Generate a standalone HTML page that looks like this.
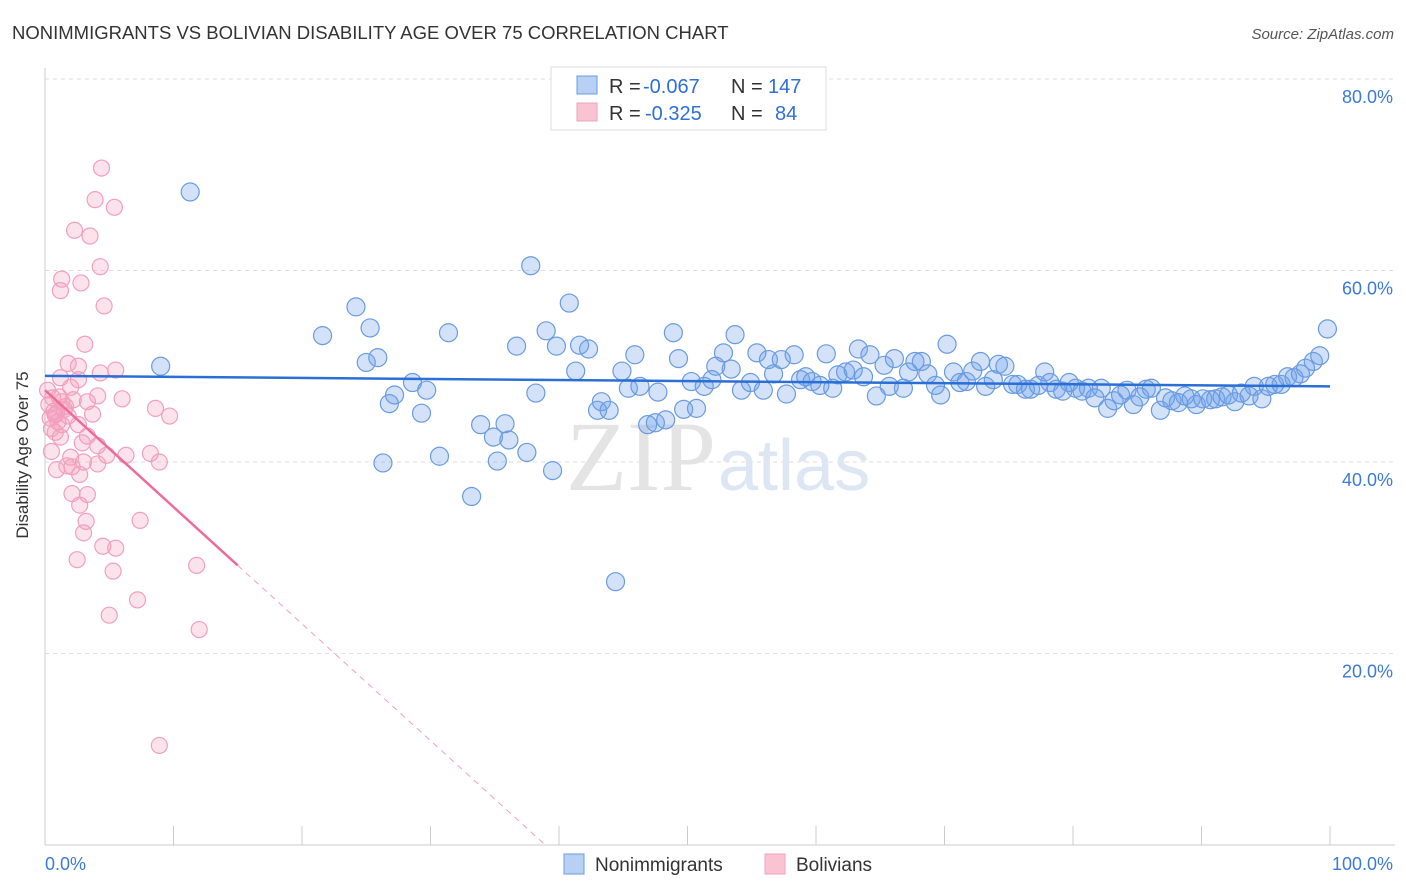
<!DOCTYPE html>
<html><head><meta charset="utf-8"><style>
body{margin:0;background:#fff;font-family:"Liberation Sans",sans-serif;}
svg{display:block}
</style></head><body>
<svg id="chart" width="1406" height="892" xmlns="http://www.w3.org/2000/svg">
<text x="12" y="39" font-size="18.5" fill="#333">NONIMMIGRANTS VS BOLIVIAN DISABILITY AGE OVER 75 CORRELATION CHART</text>
<text x="1394" y="39" font-size="15" fill="#555" font-style="italic" text-anchor="end">Source: ZipAtlas.com</text>
<g id="grid"></g>
<text x="716" y="490" font-size="100" fill="#e4e4e4" text-anchor="end" font-family="Liberation Serif,serif">ZIP</text>
<text x="718" y="490" font-size="72" fill="#dde6f3">atlas</text>
<g id="marks"></g>
<text x="28" y="455" font-size="17" fill="#333" text-anchor="middle" transform="rotate(-90 28 455)">Disability Age Over 75</text>
<g>
<rect x="551" y="67" width="275" height="63" fill="#fff" stroke="#ddd"/>
<rect x="577" y="76" width="20" height="18" fill="#b8d0f4" stroke="#6a9be0"/>
<text x="609" y="93" font-size="20" fill="#333">R =</text>
<text x="643" y="93" font-size="20" fill="#2f6fd6">-0.067</text>
<text x="731" y="93" font-size="20" fill="#333">N =</text>
<text x="768" y="93" font-size="20" fill="#2f6fd6">147</text>
<rect x="577" y="103" width="20" height="18" fill="#f8c4d4" stroke="#f0a0bc"/>
<text x="609" y="120" font-size="20" fill="#333">R =</text>
<text x="645" y="120" font-size="20" fill="#2f6fd6">-0.325</text>
<text x="731" y="120" font-size="20" fill="#333">N =</text>
<text x="775" y="120" font-size="20" fill="#2f6fd6">84</text>
</g>
<g>
<rect x="564" y="854" width="20" height="20" fill="#b8d0f4" stroke="#6a9be0"/>
<text x="595" y="871" font-size="19" fill="#333">Nonimmigrants</text>
<rect x="765" y="854" width="20" height="20" fill="#f8c4d4" stroke="#f0a0bc"/>
<text x="796" y="871" font-size="19" fill="#333">Bolivians</text>
</g>
</svg>
<script>
const yTicks=[20,40,60,80];
const yTickLabels=["20.0%","40.0%","60.0%","80.0%"];
const xTickLabels=["0.0%","100.0%"];
const blueX=[11.3,9.0,21.6,24.2,25.3,25.0,25.9,26.3,26.8,27.2,28.6,29.7,29.3,30.7,31.4,33.2,33.9,34.9,35.8,36.1,35.2,36.7,37.5,37.8,38.2,39.0,39.5,39.8,40.8,41.3,41.6,42.3,43.0,43.3,43.9,44.4,44.9,45.4,45.9,46.3,46.9,47.5,47.7,48.3,48.9,49.3,49.7,50.3,50.7,51.3,51.9,52.2,52.8,53.4,53.7,54.2,54.9,55.4,55.9,56.3,56.7,57.3,57.7,58.3,58.8,59.2,59.7,60.3,60.8,61.3,61.7,62.3,62.9,63.3,63.7,64.2,64.7,65.3,65.7,66.1,66.8,67.2,67.7,68.2,68.7,69.3,69.7,70.2,70.7,71.2,71.7,72.2,72.8,73.2,73.8,74.2,74.7,75.3,75.7,76.3,76.7,77.3,77.8,78.2,78.7,79.2,79.7,80.2,80.7,81.2,81.7,82.2,82.7,83.2,83.7,84.2,84.7,85.2,85.7,86.1,86.8,87.2,87.7,88.2,88.7,89.2,89.6,90.1,90.7,91.1,91.6,92.1,92.6,93.1,93.7,94.1,94.7,95.2,95.7,96.2,96.7,97.2,97.7,98.1,98.7,99.2,99.8];
const blueY=[68.2,50.0,53.2,56.2,54.0,50.4,50.9,39.9,46.1,47.0,48.3,47.5,45.1,40.6,53.5,36.4,43.9,42.6,44.0,42.3,40.1,52.1,41.0,60.5,47.2,53.7,39.1,52.1,56.6,49.5,52.2,51.8,45.4,46.3,45.4,27.5,49.5,47.7,51.2,47.9,43.9,44.1,47.3,44.4,53.5,50.8,45.5,48.4,45.6,47.9,48.6,50.0,51.4,49.7,53.3,47.5,48.3,51.4,47.5,50.7,49.2,50.7,47.1,51.2,48.6,48.9,48.4,48.0,51.3,47.7,49.1,49.4,49.6,51.8,48.9,51.2,46.9,50.1,47.9,50.8,47.7,49.4,50.5,50.5,49.2,48.0,47.0,52.3,49.4,48.3,48.4,49.5,50.5,47.9,48.6,50.2,50.0,48.1,48.1,47.6,47.6,48.0,49.4,48.3,47.6,47.4,48.3,47.7,47.4,47.7,46.7,47.7,45.6,46.4,47.0,47.5,46.0,46.8,47.6,47.7,45.4,46.7,46.4,46.2,46.9,46.6,46.0,46.6,46.5,46.6,46.8,47.0,46.3,47.2,46.9,47.9,46.6,47.9,48.1,48.1,48.9,48.8,49.2,49.8,50.5,51.1,53.9];
const pinkX=[4.4,3.9,5.4,2.3,3.5,4.3,1.3,2.8,1.2,4.6,3.1,1.8,2.6,5.5,4.3,1.2,2.6,2.0,0.2,6.0,4.1,0.6,2.2,1.3,3.3,8.6,9.7,0.9,1.8,3.7,0.4,1.3,2.6,0.8,3.3,1.2,2.9,4.1,0.5,6.3,8.2,4.8,2.0,3.0,8.9,4.1,1.7,2.1,0.9,2.7,2.1,3.3,2.7,3.2,7.4,3.0,4.5,5.5,2.5,11.8,5.3,7.2,5.0,12.0,8.9,0.3,0.7,1.0,1.5,0.5,1.1,0.8,1.6];
const pinkY=[70.7,67.4,66.6,64.2,63.6,60.4,59.1,58.7,57.9,56.3,52.3,50.3,50.0,49.6,49.3,48.8,48.6,47.8,47.5,46.6,46.9,46.7,46.5,46.3,46.3,45.6,44.8,45.1,44.8,45.0,44.6,43.9,43.9,43.1,42.7,42.6,42.0,41.7,41.1,40.7,40.9,40.7,40.5,40.0,40.0,39.8,39.6,39.5,39.2,38.7,36.7,36.6,35.5,33.8,33.9,32.6,31.2,31.0,29.8,29.2,28.6,25.6,24.0,22.5,10.4,46.0,45.3,44.2,45.5,43.5,46.8,44.9,45.8];
const blueTrend=[49.0,47.9];
const pinkTrend=[47.5,-1.22];
const pinkSolidEnd=15;

const X0=45,X1=1330,Y0=845,YS=9.575;
const sx=v=>X0+(X1-X0)*v/100, sy=v=>Y0-v*YS;
const NS="http://www.w3.org/2000/svg";
function mk(tag,attrs,parent){const e=document.createElementNS(NS,tag);for(const k in attrs)e.setAttribute(k,attrs[k]);parent.appendChild(e);return e;}
const grid=document.getElementById('grid'),marks=document.getElementById('marks');
yTicks.forEach((t,i)=>{
 const l=mk('line',{x1:X0,x2:1395,y1:sy(t),y2:sy(t),stroke:'#ddd','stroke-dasharray':'4,4'},grid);
 
 
 const tx=mk('text',{x:1393,y:sy(t)+24,'font-size':18,fill:'#3b7ad9','text-anchor':'end'},grid);
 tx.textContent=yTickLabels[i];
 
 
});
const ax=mk('line',{x1:X0,x2:1395,y1:Y0,y2:Y0,stroke:'#ccc'},grid);


const ay=mk('line',{x1:X0,x2:X0,y1:68,y2:Y0,stroke:'#ccc'},grid);


for(let i=0;i<=10;i++){mk('line',{x1:sx(i*10),x2:sx(i*10),y1:826,y2:Y0,stroke:'#ccc'},grid);}
[[0,'start'],[100,'end']].forEach((p,i)=>{
 const t=mk('text',{x:i?1393:45,y:870,'font-size':18,fill:'#3b7ad9','text-anchor':p[1]},grid);
 t.textContent=xTickLabels[i];
 
 
});
blueX.forEach((x,i)=>{
 const c=mk('circle',{cx:sx(x),cy:sy(blueY[i]),r:9,fill:'rgba(110,160,235,0.3)',stroke:'#6a9be0','stroke-width':1.2},marks);
 
 
});
pinkX.forEach((x,i)=>{
 const c=mk('circle',{cx:sx(x),cy:sy(pinkY[i]),r:8,fill:'rgba(245,160,190,0.3)',stroke:'#f0a0bc','stroke-width':1.2},marks);
 
 
});
const bl=mk('line',{x1:sx(0),y1:sy(blueTrend[0]),x2:sx(100),y2:sy(blueTrend[1]),stroke:'#2a6fd6','stroke-width':2.5},marks);


const pf=x=>pinkTrend[0]+pinkTrend[1]*x;
const xz=-pinkTrend[0]/pinkTrend[1];
const pl=mk('line',{x1:sx(0),y1:sy(pf(0)),x2:sx(pinkSolidEnd),y2:sy(pf(pinkSolidEnd)),stroke:'#ec6d96','stroke-width':2.5},marks);


const pd=mk('line',{x1:sx(pinkSolidEnd),y1:sy(pf(pinkSolidEnd)),x2:sx(xz),y2:sy(0),stroke:'#f0a0bc','stroke-width':1,'stroke-dasharray':'6,5'},marks);


</script>
</body></html>
